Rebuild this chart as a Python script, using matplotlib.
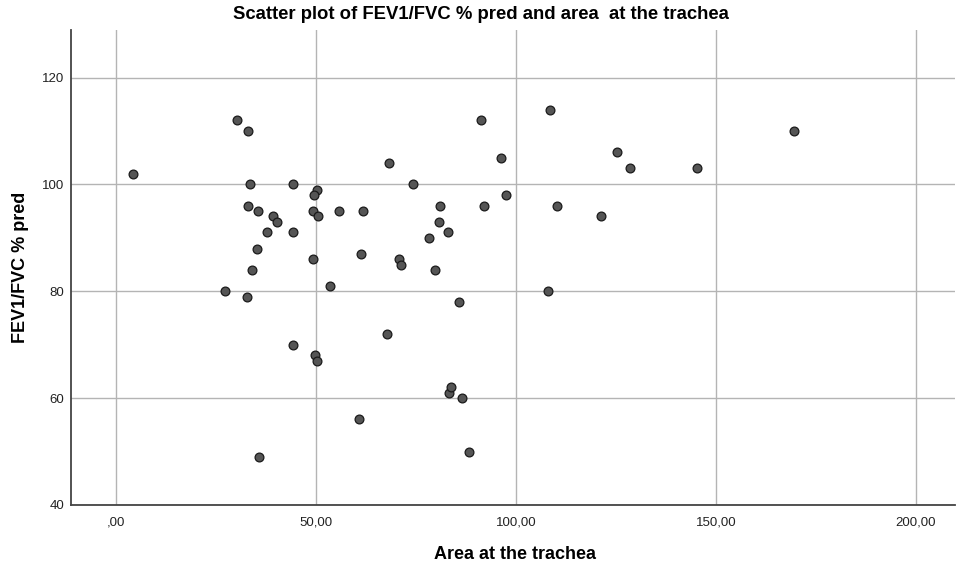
import matplotlib
matplotlib.use('Agg')
import matplotlib.pyplot as plt
from matplotlib.ticker import FuncFormatter

plt.rcParams['font.family'] = ['Liberation Sans', 'DejaVu Sans']

# area at the trachea vs FEV1/FVC % pred
area = [4.4, 30.2, 33.1, 33.6, 44.2, 50.3, 49.6, 68.2, 74.3, 33.1,
        35.5, 39.2, 40.2, 37.8, 44.2, 49.4, 50.5, 55.8, 61.7, 35.2,
        49.4, 61.4, 70.7, 71.3, 78.4, 81.1, 80.7, 83.1, 79.7, 34.1,
        27.3, 32.7, 53.6, 85.7, 44.2, 67.9, 49.8, 50.4, 35.7, 60.8,
        83.2, 83.9, 86.5, 88.3, 91.3, 96.4, 97.5, 92.0, 108.5, 125.4,
        128.5, 145.3, 169.6, 110.2, 121.2, 108.0]
fev = [102, 112, 110, 100, 100, 99, 98, 104, 100, 96,
       95, 94, 93, 91, 91, 95, 94, 95, 95, 88,
       86, 87, 86, 85, 90, 96, 93, 91, 84, 84,
       80, 79, 81, 78, 70, 72, 68, 67, 49, 56,
       61, 62, 60, 50, 112, 105, 98, 96, 114, 106,
       103, 103, 110, 96, 94, 80]

x_ticks = [0, 50, 100, 150, 200]
y_ticks = [40, 60, 80, 100, 120]

fig = plt.figure(figsize=(9.56, 5.66), dpi=100)
ax = fig.add_axes([0.0743, 0.1078, 0.9247, 0.8392])

ax.scatter(area, fev, s=40, color='#555555', edgecolors='#1a1a1a',
           linewidths=0.9, zorder=3)

ax.set_xlim(-11.2, 209.8)
ax.set_ylim(40, 128.9)
ax.set_xticks(x_ticks)
ax.set_yticks(y_ticks)

def comma_fmt(v, pos):
    s = '{:.2f}'.format(v).replace('.', ',')
    if s.startswith('0,'):
        s = s[1:]
    return s

ax.xaxis.set_major_formatter(FuncFormatter(comma_fmt))
ax.tick_params(axis='x', length=0, labelsize=9.5, colors='#222222', pad=8)
ax.tick_params(axis='y', length=0, labelsize=9.5, colors='#222222', pad=5)

ax.grid(True, color='#b4b4b4', linewidth=1.0, zorder=0)
ax.set_axisbelow(True)
for side in ['top', 'right']:
    ax.spines[side].set_visible(False)
for side in ['left', 'bottom']:
    ax.spines[side].set_color('#444444')
    ax.spines[side].set_linewidth(1.3)

fig.suptitle('Scatter plot of FEV1/FVC % pred and area  at the trachea',
             fontsize=13.3, fontweight='bold', x=0.503, y=0.99, va='top')
ax.set_xlabel('Area at the trachea', fontsize=13, fontweight='bold')
ax.set_ylabel('FEV1/FVC % pred', fontsize=13, fontweight='bold')
ax.xaxis.set_label_coords(0.502, -0.087)
ax.yaxis.set_label_coords(-0.048, 0.5)

fig.savefig('out.png', dpi=100)
